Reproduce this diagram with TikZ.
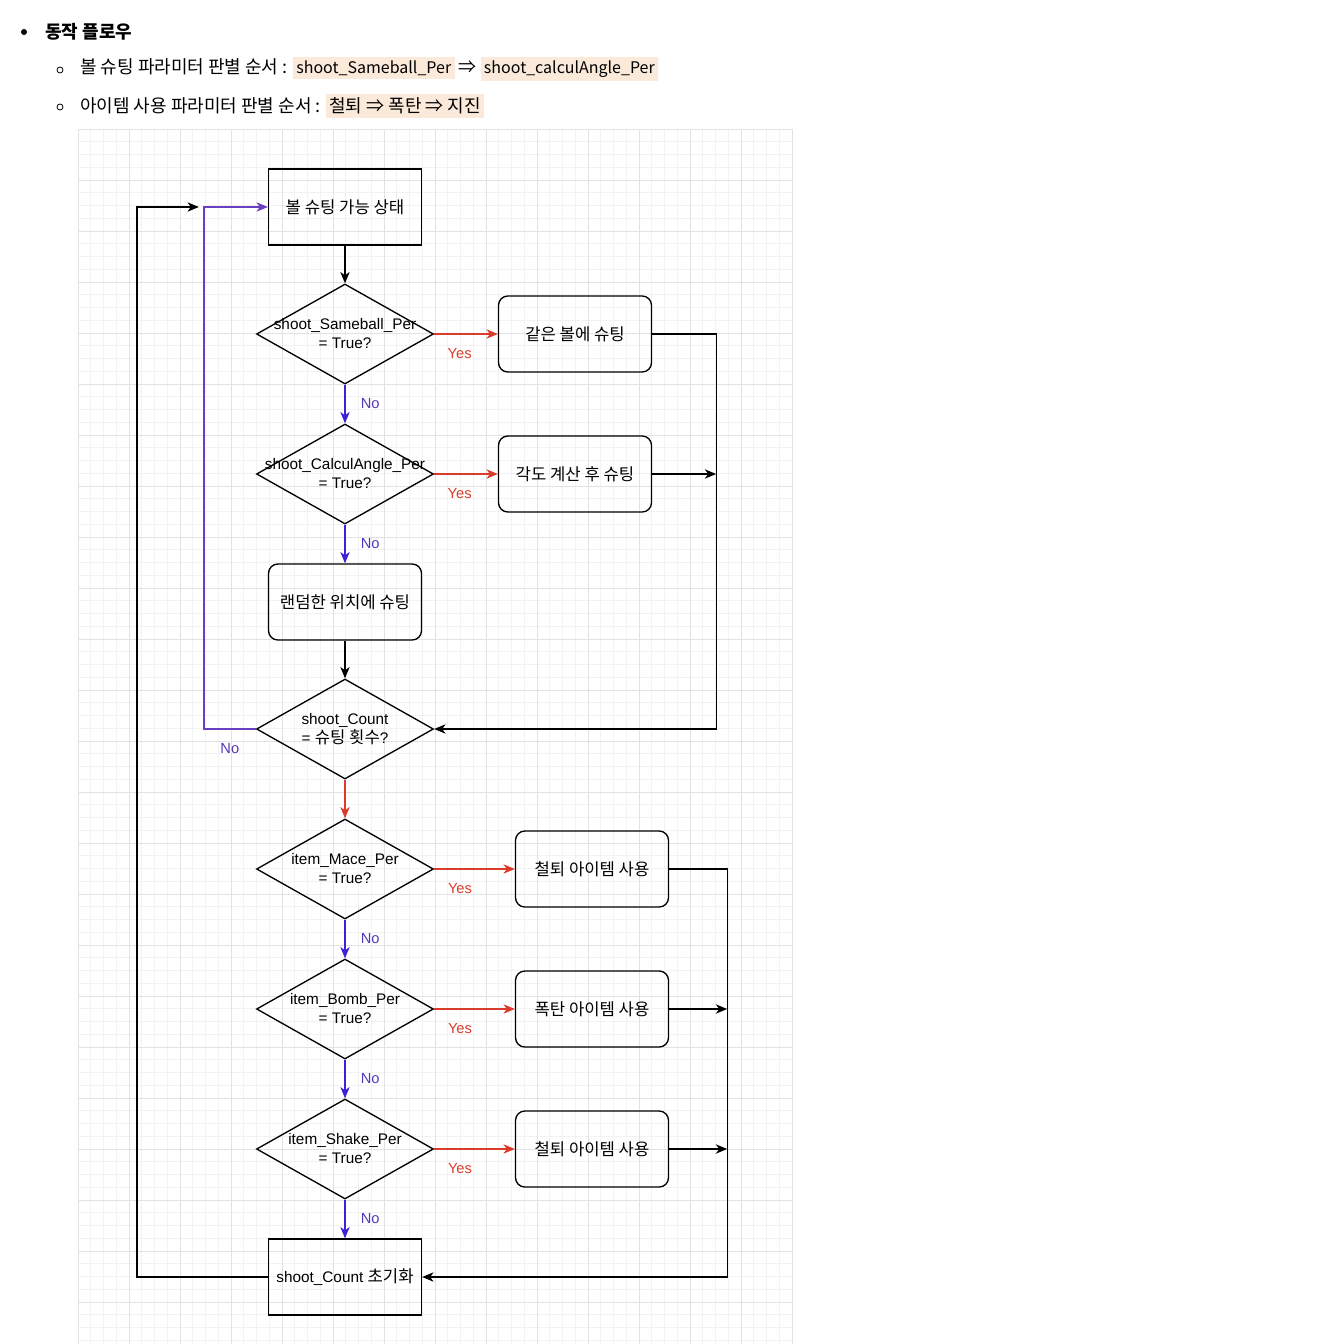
\documentclass[tikz,border=0pt]{standalone}
\usepackage{fontspec}
\setmainfont{Liberation Sans}
\newfontfamily\krfont{Noto Sans CJK KR}
\usetikzlibrary{shapes.geometric,arrows.meta,positioning}

\definecolor{hlpeach}{HTML}{FBE9DA}
\definecolor{yescol}{HTML}{DB3B2A}
\definecolor{nocol}{HTML}{3C22D6}
\definecolor{nolbl}{HTML}{5238B8}
\definecolor{loopcol}{HTML}{6A3FC2}
\definecolor{gridminor}{HTML}{F2F2F2}
\definecolor{gridmajor}{HTML}{E2E2E2}

\newcommand{\hdfont}{\krfont\fontsize{13.5}{16}\selectfont}
\newcommand{\diafont}{\fontsize{11.5}{14.25}\selectfont}
\newcommand{\lblfont}{\fontsize{11}{13}\selectfont}
\newcommand{\kr}[1]{{\krfont\fontsize{12.5}{14.25}\selectfont #1}}
\newcommand{\hlmark}[1]{{\setlength{\fboxsep}{2.5pt}\colorbox{hlpeach}{#1}}}
\newcommand{\hllatin}[1]{\hlmark{\fontsize{12}{15}\selectfont #1}}
\newcommand{\twoline}[2]{\makebox[0pt]{#1}\\\makebox[0pt]{#2}}

\begin{document}
\begin{tikzpicture}[x=0.75pt, y=-0.75pt, node distance=105pt, auto,
    state/.style={draw=black, line width=1pt, minimum width=114.75pt, minimum height=57pt, align=center, font=\diafont},
    action/.style={state, rounded corners=7pt},
    decision/.style={diamond, draw=black, line width=1pt, aspect=1.77, inner sep=0pt, minimum width=132.75pt, minimum height=75pt, align=center, font=\diafont},
    arrow/.style={-{Stealth[length=8.5pt,width=7pt,inset=2.5pt]}, line width=1pt, color=black},
    yesarrow/.style={arrow, color=yescol},
    noarrow/.style={arrow, color=nocol},
    yeslabel/.style={font=\lblfont, text=yescol},
    nolabel/.style={font=\lblfont, text=nolbl}]

    \useasboundingbox (0,0) rectangle (1332,1344);

    % grid paper
    \foreach \i in {0,...,56} \draw[gridminor, line width=0.6pt] ({78+\i*12.75},129) -- ({78+\i*12.75},1344);
    \foreach \j in {0,...,95} \draw[gridminor, line width=0.6pt] (78,{129+\j*12.75}) -- (792,{129+\j*12.75});
    \foreach \i in {0,...,14} \draw[gridmajor, line width=0.6pt] ({78+\i*51},129) -- ({78+\i*51},1344);
    \foreach \j in {0,...,23} \draw[gridmajor, line width=0.6pt] (78,{129+\j*51}) -- (792,{129+\j*51});

    % header
    \fill (24,32) circle (3);
    \draw[line width=0.6pt] (60,70) circle (3);
    \draw[line width=0.6pt] (60,107) circle (3);
    \node (title) [anchor=west, inner sep=0pt, font=\hdfont\bfseries] at (45,32) {동작 플로우};
    \node (order1) [anchor=west, inner sep=0pt, font=\hdfont] at (80,69) {볼 슈팅 파라미터 판별 순서 : \hllatin{shoot\_Sameball\_Per} ⇒ \hllatin{shoot\_calculAngle\_Per}};
    \node (order2) [anchor=west, inner sep=0pt, font=\hdfont] at (80,106) {아이템 사용 파라미터 판별 순서 : \hlmark{철퇴 ⇒ 폭탄 ⇒ 지진}};

    % shooting part
    \node (start) [state] at (345,207) {\kr{볼 슈팅 가능 상태}};
    \node (same) [decision, below of=start, node distance=95.25pt] {\twoline{shoot\_Sameball\_Per}{= True?}};
    \node (angle) [decision, below of=same] {\twoline{shoot\_CalculAngle\_Per}{= True?}};
    \node (random) [action, below of=angle, node distance=96pt] {\kr{랜덤한 위치에 슈팅}};
    \node (count) [decision, below of=random, node distance=95.25pt] {\twoline{shoot\_Count}{= \kr{슈팅 횟수}?}};
    \node (shootsame) [action, right of=same, node distance=172.5pt] {\kr{같은 볼에 슈팅}};
    \node (shootangle) [action, right of=angle, node distance=172.5pt] {\kr{각도 계산 후 슈팅}};

    % item part
    \node (mace) [decision, below of=count] {\twoline{item\_Mace\_Per}{= True?}};
    \node (bomb) [decision, below of=mace] {\twoline{item\_Bomb\_Per}{= True?}};
    \node (shake) [decision, below of=bomb] {\twoline{item\_Shake\_Per}{= True?}};
    \node (reset) [state, below of=shake, node distance=96pt] {shoot\_Count \kr{초기화}};
    \node (usemace) [action, right of=mace, node distance=185.25pt] {\kr{철퇴 아이템 사용}};
    \node (usebomb) [action, right of=bomb, node distance=185.25pt] {\kr{폭탄 아이템 사용}};
    \node (useshake) [action, right of=shake, node distance=185.25pt] {\kr{철퇴 아이템 사용}};

    \coordinate (joinA) at ([xshift=48pt]shootangle.east);
    \coordinate (joinB) at ([xshift=43.5pt]usebomb.east);
    \coordinate (joinC) at ([xshift=43.5pt]useshake.east);
    \coordinate (backA) at ([xshift=-39pt]count.west);
    \coordinate (backB) at ([xshift=-98.25pt]reset.west);
    \coordinate (backEnd) at ([xshift=-3.75pt]backA |- start.west);

    \draw [arrow] (start) -- (same);
    \draw [yesarrow] (same) -- node[yeslabel, below=7pt, pos=0.4] {Yes} (shootsame);
    \draw [noarrow] (same) -- node[nolabel, right=8pt] {No} (angle);
    \draw [yesarrow] (angle) -- node[yeslabel, below=7pt, pos=0.4] {Yes} (shootangle);
    \draw [noarrow] (angle) -- node[nolabel, right=8pt] {No} (random);
    \draw [arrow] (random) -- (count);
    \draw [arrow] (shootsame.east) -| (joinA) |- (count.east);
    \draw [arrow] (shootangle) -- (joinA);
    \draw [arrow, color=loopcol] (count.west) -- node[nolabel, below=7pt] {No} (backA) |- (start.west);

    \draw [yesarrow] (count) -- (mace);
    \draw [yesarrow] (mace) -- node[yeslabel, below=7pt, pos=0.32] {Yes} (usemace);
    \draw [noarrow] (mace) -- node[nolabel, right=8pt] {No} (bomb);
    \draw [yesarrow] (bomb) -- node[yeslabel, below=7pt, pos=0.32] {Yes} (usebomb);
    \draw [noarrow] (bomb) -- node[nolabel, right=8pt] {No} (shake);
    \draw [yesarrow] (shake) -- node[yeslabel, below=7pt, pos=0.32] {Yes} (useshake);
    \draw [noarrow] (shake) -- node[nolabel, right=8pt] {No} (reset);
    \draw [arrow] (usemace.east) -| (joinC) |- (reset.east);
    \draw [arrow] (usebomb) -- (joinB);
    \draw [arrow] (useshake) -- (joinC);
    \draw [arrow] (reset.west) -- (backB) |- (backEnd);
\end{tikzpicture}
\end{document}
